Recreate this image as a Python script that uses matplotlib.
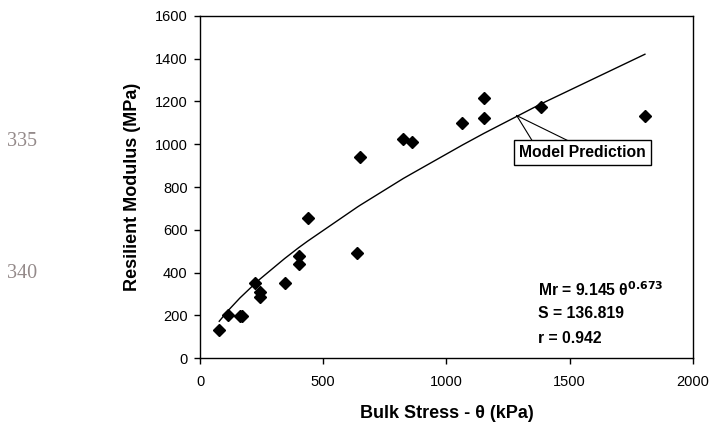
import matplotlib.pyplot as plt

plt.rcParams['font.family'] = ['Liberation Sans', 'DejaVu Sans']

# measured data (bulk stress kPa, resilient modulus MPa)
bulk_stress = [78, 115, 162, 170, 224, 243, 243, 343, 400, 400, 437, 638, 650,
               825, 860, 1064, 1152, 1152, 1382, 1805]
resilient_mod = [131, 201, 198, 196, 349, 307, 287, 349, 477, 440, 653, 493, 940,
                 1023, 1009, 1101, 1218, 1124, 1176, 1131]

# model prediction Mr = 9.145 theta^0.673, values at the test stresses
model_x = [78, 115, 162, 224, 243, 343, 400, 437, 638, 650, 825, 860, 1064,
           1152, 1382, 1805]
model_y = [172, 223, 281, 349, 369, 465, 516, 547, 706, 715, 840, 863, 996,
           1051, 1188, 1421]

fig = plt.figure(figsize=(7.12, 4.25), dpi=100)
ax = fig.add_axes([0.2809, 0.1576, 0.6924, 0.8048])

ax.plot(model_x, model_y, color='black', lw=1)
ax.plot(bulk_stress, resilient_mod, 'D', color='black', markersize=6.5, linestyle='none')

ax.set_xlim(0, 2000)
ax.set_ylim(0, 1600)
ax.set_xticks([0, 500, 1000, 1500, 2000])
ax.set_yticks(range(0, 1601, 200))
ax.tick_params(direction='out', length=4, width=1, labelsize=10.5, colors='black')
ax.tick_params(axis='x', pad=8)
ax.tick_params(axis='y', pad=5)
for sp in ax.spines.values():
    sp.set_linewidth(1)
    sp.set_color('black')

ax.set_xlabel('Bulk Stress - θ (kPa)', fontsize=13, fontweight='bold', labelpad=12)
ax.set_ylabel('Resilient Modulus (MPa)', fontsize=13, fontweight='bold', labelpad=10)

# callout for the model line
ax.text(1552, 960, 'Model Prediction', fontsize=11.3, fontweight='bold',
        ha='center', va='center',
        bbox=dict(boxstyle='square,pad=0.33', fc='white', ec='black', lw=1))
ax.plot([1285, 1350], [1134, 1012], color='black', lw=0.8)
ax.plot([1285, 1501], [1134, 1012], color='black', lw=0.8)

ax.text(1373, 318, r'Mr = 9.145 θ$^{\mathbf{0.673}}$', fontsize=11.3, fontweight='bold',
        va='center')
ax.text(1373, 206, 'S = 136.819', fontsize=11.3, fontweight='bold', va='center')
ax.text(1373, 89, 'r = 0.942', fontsize=11.3, fontweight='bold', va='center')

# line numbers from the page margin
fig.text(7 / 712, 1 - 142 / 425, '335', fontsize=14.5, color='#948a8a',
         family='Liberation Serif', va='center')
fig.text(7 / 712, 1 - 274 / 425, '340', fontsize=14.5, color='#948a8a',
         family='Liberation Serif', va='center')

fig.savefig('out.png', dpi=100)
